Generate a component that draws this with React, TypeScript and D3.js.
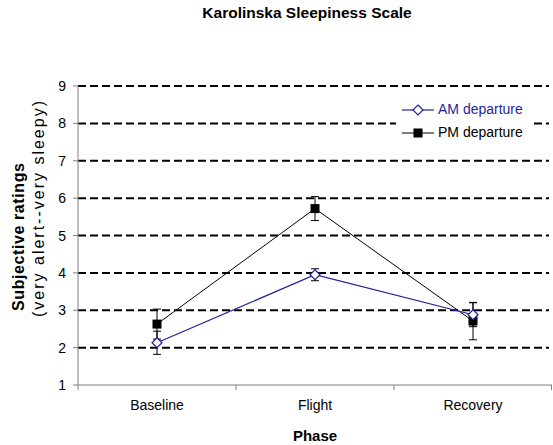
import React from "react";
import * as d3 from "d3";

const categories = ["Baseline", "Flight", "Recovery"];
const amValues = [2.13, 3.95, 2.88];
const amErrors = [0.31, 0.16, 0.32];
const pmValues = [2.63, 5.72, 2.71];
const pmErrors = [0.4, 0.32, 0.5];
const yTicks = [1, 2, 3, 4, 5, 6, 7, 8, 9];

const W = 553;
const H = 445;
const left = 78;
const right = 552;
const top = 86;
const bottom = 385;
const blue = "#1f1f9e";

export default function App() {
  const x = d3.scaleBand<string>().domain(categories).range([left, right]);
  const y = d3.scaleLinear().domain([1, 9]).range([bottom, top]);
  const cx = (c: string) => (x(c) as number) + x.bandwidth() / 2;
  const line = d3
    .line<number>()
    .x((_, i) => cx(categories[i]))
    .y((v) => y(v));
  const font = "Arial, 'Liberation Sans', sans-serif";
  const gridVals = yTicks.filter((t) => t > 1);

  const errBar = (i: number, v: number, e: number, key: string) => {
    const xc = cx(categories[i]);
    return (
      <g key={key} stroke="#000" strokeWidth={1}>
        <line x1={xc} x2={xc} y1={y(v + e)} y2={y(v - e)} />
        <line x1={xc - 4} x2={xc + 4} y1={y(v + e)} y2={y(v + e)} />
        <line x1={xc - 4} x2={xc + 4} y1={y(v - e)} y2={y(v - e)} />
      </g>
    );
  };

  const diamond = (xc: number, yc: number, key: string) => (
    <path
      key={key}
      d={`M${xc},${yc - 5}L${xc + 5},${yc}L${xc},${yc + 5}L${xc - 5},${yc}Z`}
      fill="#fff"
      stroke={blue}
      strokeWidth={1.2}
    />
  );
  const square = (xc: number, yc: number, key: string) => (
    <rect key={key} x={xc - 4.5} y={yc - 4.5} width={9} height={9} fill="#000" />
  );

  return (
    <svg width={W} height={H} style={{ position: "absolute", left: 0, top: 0 }} fontFamily={font}>
      <defs>
        <clipPath id="ytclip">
          <rect x={0} y={101} width={70} height={300} />
        </clipPath>
      </defs>
      <rect width={W} height={H} fill="#fff" />
      <text x={307} y={18} textAnchor="middle" fontSize={15.5} fontWeight="bold">
        Karolinska Sleepiness Scale
      </text>
      {gridVals.map((t) => (
        <line
          key={"g" + t}
          x1={left}
          x2={right - 3}
          y1={y(t)}
          y2={y(t)}
          stroke="#000"
          strokeWidth={2}
          strokeDasharray="8,4"
        />
      ))}
      {/* axes */}
      <line x1={left} x2={left} y1={top} y2={bottom} stroke="#808080" strokeWidth={1} />
      <line x1={left} x2={right} y1={bottom} y2={bottom} stroke="#808080" strokeWidth={1} />
      {yTicks.map((t) => (
        <g key={"yt" + t}>
          <line x1={left - 5} x2={left} y1={y(t)} y2={y(t)} stroke="#808080" />
          <text x={left - 12} y={y(t) + 5} textAnchor="end" fontSize={14}>
            {t}
          </text>
        </g>
      ))}
      {categories.map((c) => (
        <g key={"xt" + c}>
          <line
            x1={x(c) as number}
            x2={x(c) as number}
            y1={bottom}
            y2={bottom + 5}
            stroke="#808080"
          />
          <text x={cx(c)} y={410} textAnchor="middle" fontSize={14}>
            {c}
          </text>
        </g>
      ))}
      <line x1={right - 0.5} x2={right - 0.5} y1={bottom} y2={bottom + 5} stroke="#808080" />
      <text x={315} y={441} textAnchor="middle" fontSize={15} fontWeight="bold">
        Phase
      </text>
      <g transform="translate(24,237) rotate(-90)">
        <text
          textAnchor="middle"
          fontSize={16}
          fontWeight="bold"
          textLength={148}
          lengthAdjust="spacing"
        >
          Subjective ratings
        </text>
      </g>
      <g clipPath="url(#ytclip)">
        <g transform="translate(44,209) rotate(-90)">
          <text textAnchor="middle" fontSize={16} textLength={216} lengthAdjust="spacing">
            (very alert--very sleepy)
          </text>
        </g>
      </g>
      {/* series */}
      <path d={line(pmValues) || ""} fill="none" stroke="#000" strokeWidth={1} />
      <path d={line(amValues) || ""} fill="none" stroke={blue} strokeWidth={1.2} />
      {pmValues.map((v, i) => errBar(i, v, pmErrors[i], "pe" + i))}
      {amValues.map((v, i) => errBar(i, v, amErrors[i], "ae" + i))}
      {pmValues.map((v, i) => square(cx(categories[i]), y(v), "ps" + i))}
      {amValues.map((v, i) => diamond(cx(categories[i]), y(v), "ad" + i))}
      {/* legend */}
      <rect x={396} y={99} width={137} height={46} fill="#fff" />
      <line x1={402} x2={434} y1={110} y2={110} stroke={blue} strokeWidth={1.2} />
      {diamond(418, 110, "ld")}
      <text x={438} y={114} fontSize={14} fill={blue}>
        AM departure
      </text>
      <line x1={402} x2={434} y1={133} y2={133} stroke="#000" strokeWidth={1} />
      {square(418, 133, "ls")}
      <text x={438} y={137} fontSize={14} fill="#000">
        PM departure
      </text>
    </svg>
  );
}
